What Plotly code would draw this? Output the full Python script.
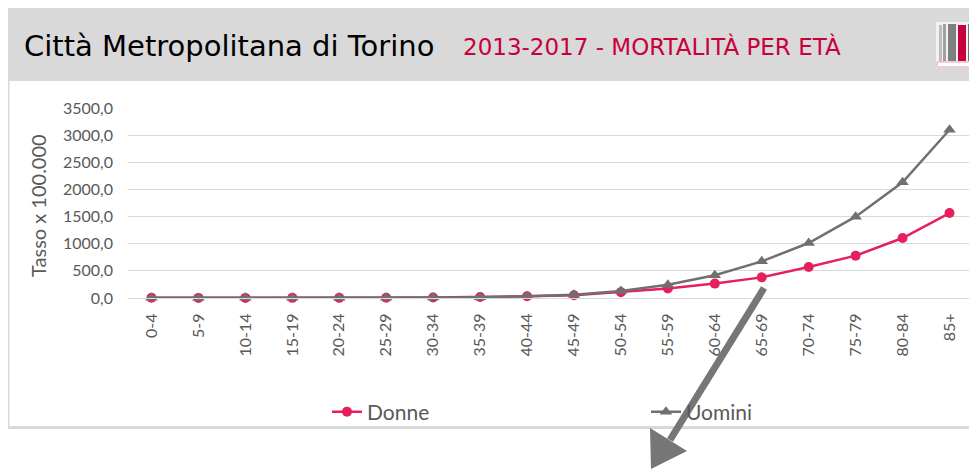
import plotly.graph_objects as go

categories = ["0-4", "5-9", "10-14", "15-19", "20-24", "25-29", "30-34", "35-39", "40-44",
              "45-49", "50-54", "55-59", "60-64", "65-69", "70-74", "75-79", "80-84", "85+"]
donne = [3.5, 1.8, 2.0, 2.5, 3.0, 4.5, 9, 18, 32, 52, 108, 175, 265, 380, 570, 780, 1105, 1565]
uomini = [3.8, 2.2, 2.4, 2.8, 3.2, 4.0, 7, 15, 30, 62, 130, 246, 418, 675, 1013, 1498, 2130, 3100]
y_tickvals = [0, 500, 1000, 1500, 2000, 2500, 3000, 3500]
y_ticktext = ["0,0", "500,0", "1000,0", "1500,0", "2000,0", "2500,0", "3000,0", "3500,0"]

# page offset of the plot div (body margin)
OFF = 8
W, H = 977 - OFF, 471 - OFF
PL, PR, PT, PB = 128, 973, 108, 298  # plot area in page pixels
L, R, T, B = PL - OFF, W - (PR - OFF), PT - OFF, H - (PB - OFF)
PW, PH = W - L - R, H - T - B


def px(x):
    return (x - OFF - L) / PW


def py(y):
    return 1 - (y - OFF - T) / PH


RED = "#e5215d"
GRAY = "#707070"
TXT = "#595959"
FONT = "Lato"
HFONT = "DejaVu Sans"
FRAME = "#d9d9d9"

fig = go.Figure()
fig.add_trace(go.Scatter(
    x=categories, y=donne, name="Donne", mode="lines+markers",
    line=dict(color=RED, width=2.5), marker=dict(symbol="circle", size=10, color=RED),
    cliponaxis=False, legend="legend"))
fig.add_trace(go.Scatter(
    x=categories, y=uomini, name="Uomini", mode="lines+markers",
    line=dict(color=GRAY, width=2.5), marker=dict(symbol="triangle-up", size=11, color=GRAY),
    cliponaxis=False, legend="legend2"))

shapes = [
    # header
    dict(type="rect", xref="paper", yref="paper", x0=px(9), x1=px(990), y0=py(8), y1=py(81),
         line=dict(width=0), fillcolor="#d9d9d9", layer="below"),
    # frame left / bottom
    dict(type="line", xref="paper", yref="paper", x0=px(8.5), x1=px(8.5), y0=py(8), y1=py(428),
         line=dict(color=FRAME, width=2), layer="below"),
    dict(type="line", xref="paper", yref="paper", x0=px(8), x1=px(990), y0=py(427.5), y1=py(427.5),
         line=dict(color=FRAME, width=3), layer="below"),
    # logo
    dict(type="rect", xref="paper", yref="paper", x0=px(936), x1=px(980), y0=py(22), y1=py(68),
         line=dict(width=0), fillcolor="#f2f2f2", layer="above"),
    dict(type="rect", xref="paper", yref="paper", x0=px(939), x1=px(942), y0=py(25), y1=py(61),
         line=dict(width=0), fillcolor="#bdbdbd", layer="above"),
    dict(type="rect", xref="paper", yref="paper", x0=px(943), x1=px(946), y0=py(24), y1=py(61),
         line=dict(width=0), fillcolor="#a0a0a0", layer="above"),
    dict(type="rect", xref="paper", yref="paper", x0=px(948), x1=px(956), y0=py(24), y1=py(61),
         line=dict(width=0), fillcolor="#7f7f7f", layer="above"),
    dict(type="rect", xref="paper", yref="paper", x0=px(958), x1=px(966), y0=py(25), y1=py(61),
         line=dict(width=0), fillcolor="#c8003c", layer="above"),
    dict(type="rect", xref="paper", yref="paper", x0=px(968), x1=px(980), y0=py(24), y1=py(61),
         line=dict(width=0), fillcolor="#757575", layer="above"),
    dict(type="rect", xref="paper", yref="paper", x0=px(937), x1=px(980), y0=py(62), y1=py(67),
         line=dict(color="#e8a0b4", width=1), fillcolor="#ffffff", layer="above"),
    # arrow shaft
    dict(type="line", xref="paper", yref="paper", x0=px(764), y0=py(288), x1=px(670), y1=py(440),
         line=dict(color="#767676", width=7), layer="above"),
    # arrow head
    dict(type="path", xref="paper", yref="paper",
         path=f"M {px(651)},{py(469)} L {px(687)},{py(451)} L {px(650)},{py(428)} Z",
         line=dict(width=0), fillcolor="#767676", layer="above"),
]

annotations = [
    dict(text="Città Metropolitana di Torino", xref="paper", yref="paper", x=px(22), y=py(46),
         xanchor="left", yanchor="middle", showarrow=False,
         font=dict(family=HFONT, size=29, color="#000000")),
    dict(text="2013-2017 - MORTALITÀ PER ETÀ", xref="paper", yref="paper", x=px(461), y=py(46.5),
         xanchor="left", yanchor="middle", showarrow=False,
         font=dict(family=HFONT, size=23, color="#c8003c")),
    dict(text="Tasso x 100.000", xref="paper", yref="paper", x=px(38), y=py(206),
         xanchor="center", yanchor="middle", textangle=-90, showarrow=False,
         font=dict(family=FONT, size=20, color=TXT)),
]

fig.update_layout(
    width=W, height=H,
    margin=dict(l=L, r=R, t=T, b=B, autoexpand=False),
    paper_bgcolor="white", plot_bgcolor="white",
    font=dict(family=FONT, color=TXT),
    shapes=shapes, annotations=annotations,
    legend=dict(orientation="h", x=px(327), y=py(412), xanchor="left", yanchor="middle",
                font=dict(size=21, color=TXT), bgcolor="rgba(0,0,0,0)"),
    legend2=dict(orientation="h", x=px(646), y=py(412), xanchor="left", yanchor="middle",
                 font=dict(size=21, color=TXT), bgcolor="rgba(0,0,0,0)"),
    showlegend=True,
)
fig.update_xaxes(type="category", range=[-0.5, 17.5], tickangle=-90, showgrid=False,
                 showline=True, linecolor="#d9d9d9", linewidth=1, ticks="",
                 tickfont=dict(family=FONT, size=16, color=TXT), ticklabelstandoff=8)
fig.update_yaxes(range=[0, 3500], tickvals=y_tickvals, ticktext=y_ticktext, showgrid=True,
                 gridcolor="#d9d9d9", gridwidth=1, zeroline=False, showline=False, ticks="",
                 tickfont=dict(family=FONT, size=16, color=TXT), ticklabelstandoff=14)

fig.write_html("out.html")
